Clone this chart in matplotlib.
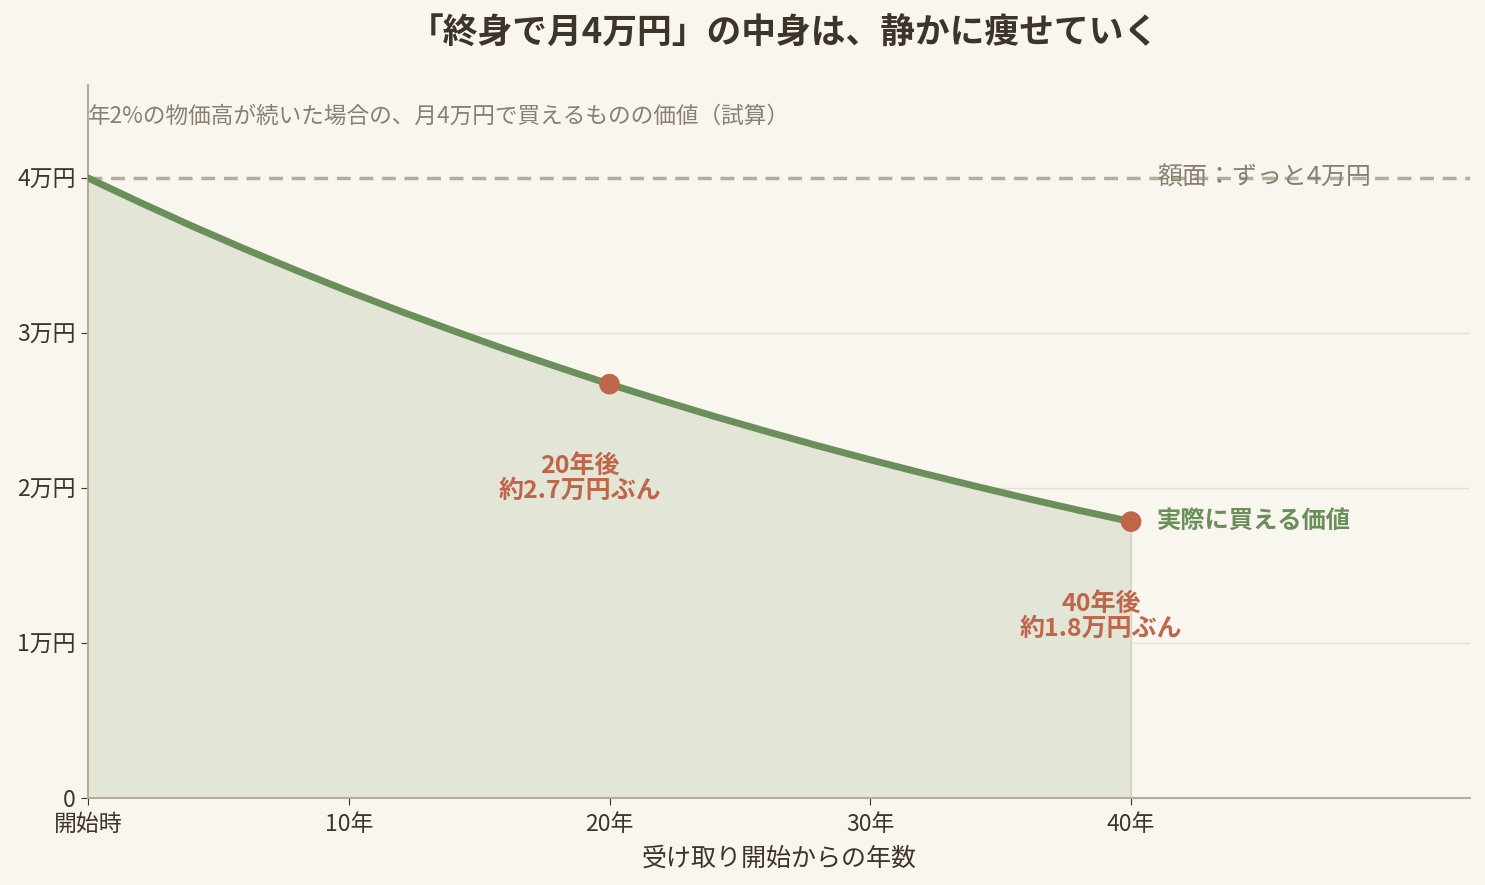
import matplotlib
matplotlib.use("Agg")
import matplotlib.pyplot as plt

plt.rcParams['font.family'] = ['Noto Sans CJK JP', 'DejaVu Sans']

# データ（年数と、月4万円の実質価値・円）
years = [0, 2, 4, 6, 8, 10, 12, 14, 16, 18, 20,
         22, 24, 26, 28, 30, 32, 34, 36, 38, 40]
real_value = [40000, 38420, 36890, 35430, 34030, 32680, 31390, 30150, 28950, 27810, 26700,
              25650, 24630, 23660, 22720, 21820, 20960, 20130, 19330, 18560, 17830]
face_value = 40000
marker_years = [20, 40]
marker_values = [26700, 17830]
marker_labels = ["20年後\n約2.7万円ぶん", "40年後\n約1.8万円ぶん"]

xtick_pos = [0, 10, 20, 30, 40]
xtick_labels = ["開始時", "10年", "20年", "30年", "40年"]
ytick_pos = [0, 10000, 20000, 30000, 40000]
ytick_labels = ["0", "1万円", "2万円", "3万円", "4万円"]

BG = "#f9f5ef"
GREEN = "#6a8f5a"
RED = "#c0654a"
BEIGE = "#b8ad9a"
DARK = "#3d3529"
GRAY = "#8a8070"

fig = plt.figure(figsize=(14.85, 8.85), dpi=100, facecolor=BG)
ax = fig.add_axes([88 / 1485, 87 / 885, (1470 - 88) / 1485, (798 - 85) / 885])
ax.set_facecolor(BG)

ax.set_xlim(0, 53)
ax.set_ylim(0, 46000)

# グリッド
for y in ytick_pos[1:4]:
    ax.axhline(y, color="#e6e0d5", lw=1, zorder=0)

# 面と線
ax.fill_between(years, real_value, 0, color="#e3e5d7", zorder=1)
ax.plot([40, 40], [0, marker_values[1]], color="#d6d8c8", lw=1.5, zorder=1)
ax.axhline(face_value, color=BEIGE, lw=2.5, ls=(0, (4, 2.5)), zorder=2)
ax.plot(years, real_value, color=GREEN, lw=5, solid_capstyle="round", zorder=3)
ax.scatter(marker_years, marker_values, s=220, color=RED, zorder=4, edgecolor="none")

# 注記
ax.text(18.87, 20600, marker_labels[0], ha="center", va="center", color=RED,
        fontsize=18, fontweight="bold", linespacing=1.05)
ax.text(38.85, 11700, marker_labels[1], ha="center", va="center", color=RED,
        fontsize=18, fontweight="bold", linespacing=1.05)
ax.text(41.0, marker_values[1] + 50, "実際に買える価値", ha="left", va="center",
        color=GREEN, fontsize=17.5, fontweight="bold")
ax.text(41.0, face_value, "額面：ずっと4万円", ha="left", va="center",
        color=GRAY, fontsize=18)
ax.text(0.0, 44000, "年2%の物価高が続いた場合の、月4万円で買えるものの価値（試算）",
        ha="left", va="center", color=GRAY, fontsize=16.3)

ax.set_xticks(xtick_pos)
ax.set_xticklabels(xtick_labels)
ax.set_yticks(ytick_pos)
ax.set_yticklabels(ytick_labels)
ax.tick_params(colors=DARK, labelsize=16.5, color=DARK, length=5)
ax.tick_params(axis="x", pad=6)
ax.tick_params(axis="y", pad=4)
ax.set_xlabel("受け取り開始からの年数", fontsize=18, color=DARK, labelpad=7)

for s in ["top", "right"]:
    ax.spines[s].set_visible(False)
for s in ["left", "bottom"]:
    ax.spines[s].set_color(BEIGE)
    ax.spines[s].set_linewidth(1.5)

fig.text(0.528, 0.963, "「終身で月4万円」の中身は、静かに痩せていく", ha="center", va="center",
         fontsize=25, fontweight="bold", color=DARK)

fig.savefig("out.png", dpi=100, facecolor=BG)
